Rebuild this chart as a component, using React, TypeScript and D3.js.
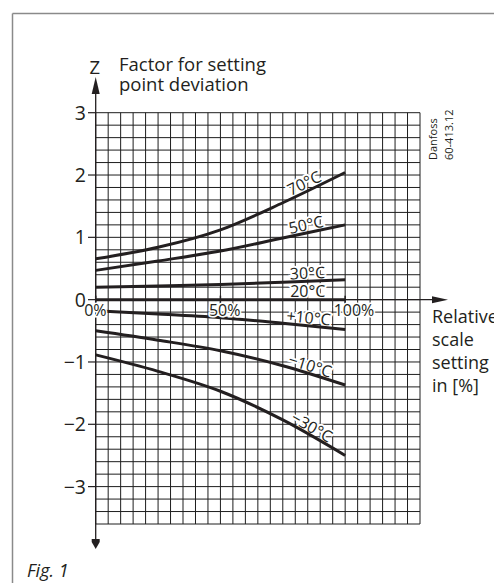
import React from "react";
import * as d3 from "d3";

// ---- data ----
const xPct = [0, 25, 50, 75, 100];
const curveNames = ["70°C", "50°C", "30°C", "20°C", "+10°C", "−10°C", "−30°C"];
const t70 = [0.655, 0.84, 1.12, 1.555, 2.04];
const t50 = [0.47, 0.62, 0.78, 0.99, 1.2];
const t30 = [0.2, 0.22, 0.245, 0.28, 0.32];
const t20 = [0, 0, 0, 0, 0];
const tP10 = [-0.18, -0.23, -0.29, -0.38, -0.48];
const tM10 = [-0.5, -0.65, -0.82, -1.06, -1.37];
const tM30 = [-0.886, -1.15, -1.47, -1.93, -2.5];
const curveValues = [t70, t50, t30, t20, tP10, tM10, tM30];
const yTicks = [3, 2, 1, 0, -1, -2, -3];
const yTickLabels = ["3", "2", "1", "0", "−1", "−2", "−3"];
const xTicks = [0, 50, 100];
const xTickLabels = ["0%", "50%", "100%"];
const xDomain = [0, 130];
const yDomain = [-3.6, 3];
const labelAt = 85;

const W = 494;
const H = 583;
const INK = "#231f20";
const FONT = "'Open Sans', 'Noto Sans', sans-serif";

export default function App() {
  const x = d3.scaleLinear().domain(xDomain).range([95.7, 420]);
  const y = d3.scaleLinear().domain(yDomain).range([524, 112.7]);
  const vLines = d3.range(xDomain[0], xDomain[1] + 0.001, 5);
  const hLines = d3.range(0, 34).map((i) => yDomain[0] + i * 0.2);
  const line = d3
    .line<[number, number]>()
    .x((d) => x(d[0]))
    .y((d) => y(d[1]))
    .curve(d3.curveMonotoneX);

  const labels = curveValues.map((vals, i) => {
    const x0 = x(xPct[3]), y0 = y(vals[3]);
    const x1 = x(xPct[4]), y1 = y(vals[4]);
    const t = (labelAt - xPct[3]) / (xPct[4] - xPct[3]);
    const px = x0 + (x1 - x0) * t;
    const py = y0 + (y1 - y0) * t;
    const ang = (Math.atan2(y1 - y0, x1 - x0) * 180) / Math.PI;
    return { name: curveNames[i], px, py, ang };
  });

  const x0 = x(0);
  const y0 = y(0);

  return (
    <svg
      width={W}
      height={H}
      style={{ position: "absolute", left: 0, top: 0, background: "#fff" }}
      fontFamily={FONT}
    >
      {/* frame */}
      <line x1={12.5} y1={13.5} x2={W} y2={13.5} stroke="#8a8a8a" strokeWidth={1.5} />
      <line x1={12.5} y1={13.5} x2={12.5} y2={H} stroke="#8a8a8a" strokeWidth={1.5} />

      {/* grid */}
      <g stroke="#1e1e1e" strokeWidth={1}>
        {vLines.map((v) => (
          <line key={"v" + v} x1={x(v)} x2={x(v)} y1={y(yDomain[1])} y2={y(yDomain[0])} />
        ))}
        {hLines.map((v, i) => (
          <line key={"h" + i} x1={x(xDomain[0])} x2={x(xDomain[1])} y1={y(v)} y2={y(v)} />
        ))}
      </g>

      {/* curve labels */}
      {labels.map((l) => (
        <g key={l.name} transform={`translate(${l.px},${l.py}) rotate(${l.ang})`}>
          <text
            x={0}
            y={-2.5}
            textAnchor="middle"
            fontSize={16}
            fill={INK}
            stroke="#fff"
            strokeWidth={4}
            paintOrder="stroke"
          >
            {l.name}
          </text>
        </g>
      ))}

      {/* axes */}
      <line x1={x0} x2={x0} y1={90} y2={541} stroke={INK} strokeWidth={1.3} />
      <path d={`M${x0},77 L${x0 + 4},94 L${x0 - 4},94 Z`} fill={INK} />
      <path d={`M${x0 - 4},539 L${x0 + 4},539 L${x0 + 4},542 L${x0},549 L${x0 - 4},542 Z`} fill={INK} />
      <line x1={x0} x2={437} y1={y0} y2={y0} stroke={INK} strokeWidth={1.3} />
      <path d={`M448,${y0} L432,${y0 - 3.5} L432,${y0 + 3.5} Z`} fill={INK} />

      {/* y ticks */}
      {yTicks.map((v, i) => (
        <g key={"yt" + v}>
          <line x1={88} x2={x0} y1={y(v)} y2={y(v)} stroke={INK} strokeWidth={1.2} />
          <text x={86} y={y(v)} dy="0.36em" textAnchor="end" fontSize={19.5} fill={INK}>
            {yTickLabels[i]}
          </text>
        </g>
      ))}

      {/* curves */}
      {curveValues.map((vals, i) => (
        <path
          key={"c" + i}
          d={line(xPct.map((p, j) => [p, vals[j]] as [number, number])) || ""}
          fill="none"
          stroke={INK}
          strokeWidth={3}
        />
      ))}

      {/* x ticks and labels */}
      {xTicks.map((v, i) => (
        <g key={"xt" + v}>
          <line x1={x(v)} x2={x(v)} y1={y0 - 4} y2={y0 + 4} stroke={INK} strokeWidth={1.5} />
          <text
            x={x(v) - 11.5}
            y={y0 + 16}
            fontSize={16}
            fill={INK}
            stroke="#fff"
            strokeWidth={3}
            paintOrder="stroke"
          >
            {xTickLabels[i]}
          </text>
        </g>
      ))}

      {/* titles */}
      <text x={89.5} y={74} fontSize={18.5} fill={INK}>Z</text>
      <text x={119} y={71} fontSize={18.5} fill={INK}>Factor for setting</text>
      <text x={119} y={91} fontSize={18.5} fill={INK}>point deviation</text>

      <g fontSize={18} fill={INK}>
        <text x={432} y={323}>Relative</text>
        <text x={432} y={346}>scale</text>
        <text x={432} y={369}>setting</text>
        <text x={432} y={392}>in [%]</text>
      </g>

      <text transform="translate(437,160) rotate(-90)" fontSize={11} fill={INK}>Danfoss</text>
      <text transform="translate(453,160) rotate(-90)" fontSize={11} fill={INK}>60-413.12</text>

      <text x={27} y={577} fontSize={18} fontStyle="italic" fill={INK}>Fig. 1</text>
    </svg>
  );
}
